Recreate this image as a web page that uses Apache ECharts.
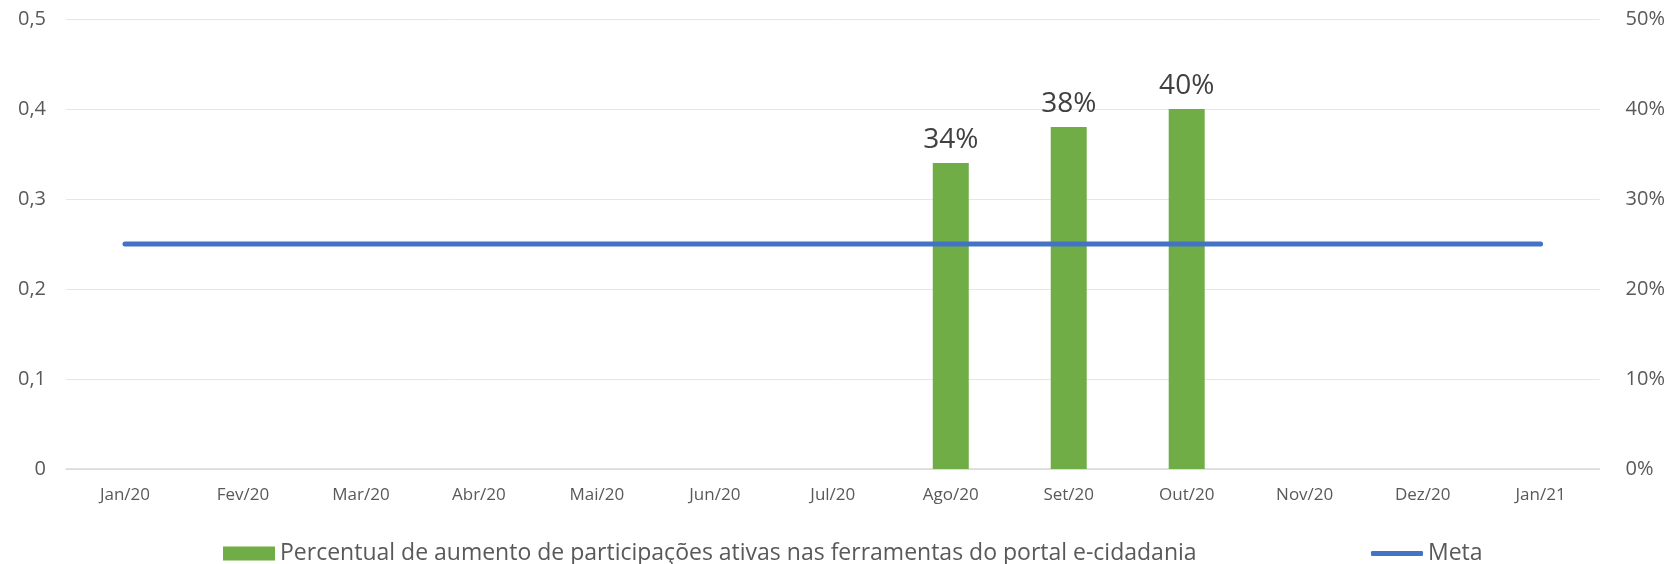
<!DOCTYPE html>
<html>
<head>
<meta charset="utf-8">
<script src="https://cdn.jsdelivr.net/npm/echarts@6/dist/echarts.min.js"></script>
<style>
  html, body { margin: 0; padding: 0; background: #fff; }
  #chart { width: 1668px; height: 564px; }
</style>
</head>
<body>
<div id="chart"></div>
<script>
// dados
var meses = ['Jan/20', 'Fev/20', 'Mar/20', 'Abr/20', 'Mai/20', 'Jun/20', 'Jul/20',
  'Ago/20', 'Set/20', 'Out/20', 'Nov/20', 'Dez/20', 'Jan/21'];
var percentual = [null, null, null, null, null, null, null, 0.34, 0.38, 0.40, null, null, null];
var meta = [0.25, 0.25, 0.25, 0.25, 0.25, 0.25, 0.25, 0.25, 0.25, 0.25, 0.25, 0.25, 0.25];
var nomeBarra = 'Percentual de aumento de participações ativas nas ferramentas do portal e-cidadania';
var nomeMeta = 'Meta';

var FONT = '"Open Sans", sans-serif';
var chart = echarts.init(document.getElementById('chart'));

var option = {
  animation: false,
  textStyle: { fontFamily: FONT },
  grid: { left: 66, right: 67, top: 19, bottom: 95 },
  legend: [
    {
      data: [nomeBarra],
      left: 218, top: 537,
      icon: 'rect', itemWidth: 52, itemHeight: 14, itemGap: 4,
      textStyle: { fontFamily: FONT, fontSize: 23, color: '#595959' }
    },
    {
      data: [nomeMeta],
      left: 1366, top: 537,
      icon: 'roundRect', itemWidth: 52, itemHeight: 5,
      textStyle: { fontFamily: FONT, fontSize: 23, color: '#595959' }
    }
  ],
  xAxis: {
    type: 'category',
    data: meses,
    boundaryGap: true,
    axisLine: { lineStyle: { color: '#D9D9D9', width: 1.5 } },
    axisTick: { show: false },
    axisLabel: { color: '#595959', fontSize: 17, margin: 18, fontFamily: FONT }
  },
  yAxis: [
    {
      type: 'value', min: 0, max: 0.5, interval: 0.1,
      axisLabel: {
        color: '#595959', fontSize: 20, margin: 20, fontFamily: FONT,
        formatter: function (v) { return v === 0 ? '0' : v.toFixed(1).replace('.', ','); }
      },
      splitLine: { lineStyle: { color: '#E6E6E6', width: 1 } },
      axisLine: { show: false }, axisTick: { show: false }
    },
    {
      type: 'value', min: 0, max: 0.5, interval: 0.1,
      position: 'right',
      axisLabel: {
        color: '#595959', fontSize: 20, margin: 26, fontFamily: FONT,
        formatter: function (v) { return Math.round(v * 100) + '%'; }
      },
      splitLine: { show: false },
      axisLine: { show: false }, axisTick: { show: false }
    }
  ],
  series: [
    {
      name: nomeBarra,
      type: 'bar',
      yAxisIndex: 1,
      data: percentual,
      barWidth: 36,
      itemStyle: { color: '#70AD47' },
      label: {
        show: true, position: 'top', distance: 9,
        color: '#404040', fontSize: 28, fontFamily: FONT,
        formatter: function (p) { return Math.round(p.value * 100) + '%'; }
      }
    },
    {
      name: nomeMeta,
      type: 'line',
      yAxisIndex: 0,
      data: meta,
      symbol: 'none',
      lineStyle: { color: '#4472C4', width: 5, cap: 'round' },
      itemStyle: { color: '#4472C4' },
      z: 3
    }
  ]
};
chart.setOption(option);
</script>
</body>
</html>
